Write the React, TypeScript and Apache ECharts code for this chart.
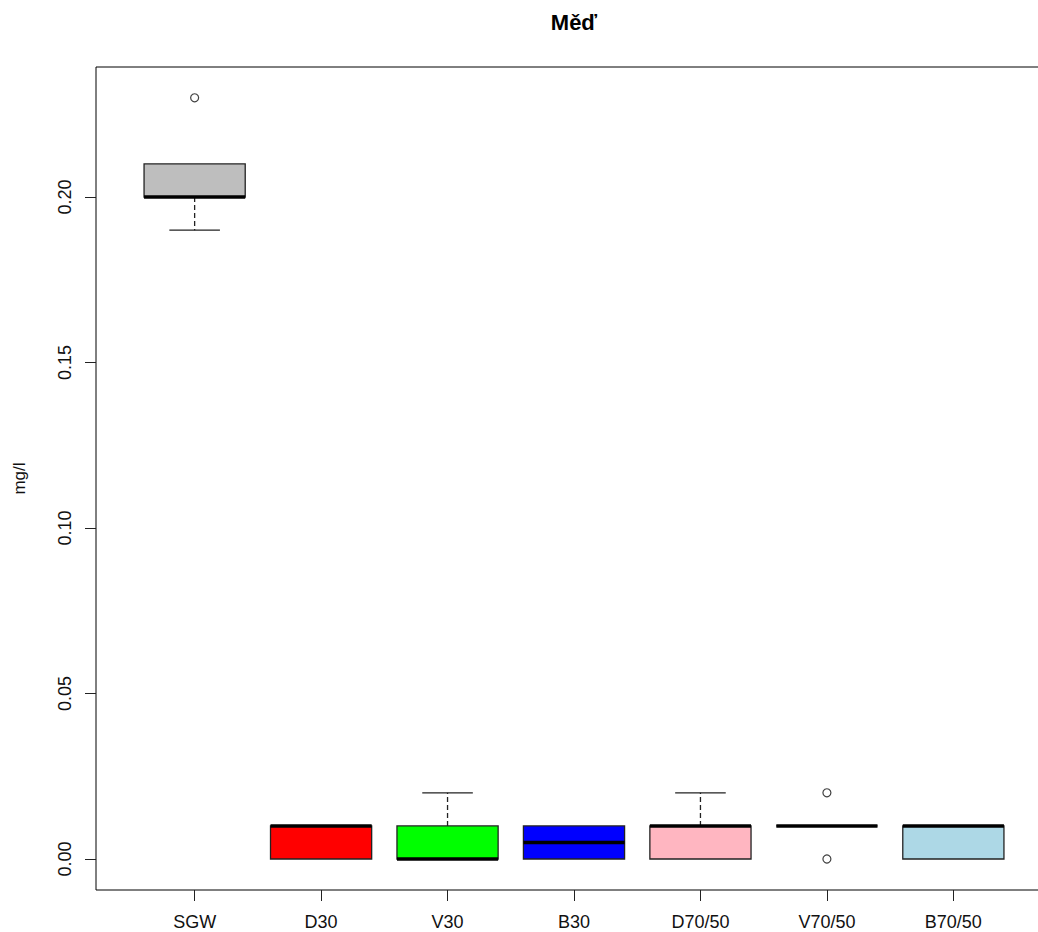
import React, { useEffect, useRef } from "react";
import * as echarts from "echarts";

const categories = ["SGW", "D30", "V30", "B30", "D70/50", "V70/50", "B70/50"];
const lowerWhisker = [0.19, 0, 0, 0, 0, 0.01, 0];
const q1 = [0.2, 0, 0, 0, 0, 0.01, 0];
const median = [0.2, 0.01, 0, 0.005, 0.01, 0.01, 0.01];
const q3 = [0.21, 0.01, 0.01, 0.01, 0.01, 0.01, 0.01];
const upperWhisker = [0.21, 0.01, 0.02, 0.01, 0.02, 0.01, 0.01];
const boxColors = ["#BEBEBE", "#FF0000", "#00FF00", "#0000FF", "#FFB6C1", "#FFFF00", "#ADD8E6"];
// outliers: [category index (0-based), value]
const outliers: [number, number][] = [
  [0, 0.23],
  [5, 0.02],
  [5, 0.0],
];
const yTicks = [0, 0.05, 0.1, 0.15, 0.2];
const xTicks = [1, 2, 3, 4, 5, 6, 7];

export default function App() {
  const ref = useRef<HTMLDivElement>(null);
  useEffect(() => {
    if (!ref.current) return;
    const chart = echarts.init(ref.current, undefined, { renderer: "svg" });
    const boxData = categories.map((_, i) => [
      i + 1,
      lowerWhisker[i],
      q1[i],
      median[i],
      q3[i],
      upperWhisker[i],
      i,
    ]);
    const fontFamily = "'Liberation Sans', Arial, sans-serif";
    chart.setOption({
      animation: false,
      backgroundColor: "#ffffff",
      grid: {
        left: 96,
        top: 67,
        width: 956,
        height: 823,
        show: true,
        borderColor: "#000",
        borderWidth: 1,
        backgroundColor: "transparent",
        containLabel: false,
        outerBoundsMode: "none",
      },
      graphic: [
        {
          type: "text",
          x: 574,
          y: 22,
          style: {
            text: "Měď",
            align: "center",
            verticalAlign: "middle",
            font: `bold 22px ${fontFamily}`,
            fill: "#000",
          },
        },
      ],
      xAxis: {
        type: "value",
        min: 0.22,
        max: 7.78,
        splitLine: { show: false },
        axisLine: { show: false, onZero: false },
        axisTick: { show: true, length: 11, customValues: xTicks, lineStyle: { color: "#222" } },
        axisLabel: {
          customValues: xTicks,
          formatter: (v: number) => categories[Math.round(v) - 1] ?? "",
          fontSize: 18,
          lineHeight: 18,
          fontFamily,
          color: "#111",
          margin: 23,
        },
      },
      yAxis: {
        type: "value",
        min: -0.00937,
        max: 0.2393,
        splitLine: { show: false },
        axisLine: { show: false, onZero: false },
        name: "mg/l",
        nameLocation: "middle",
        nameRotate: 90,
        nameGap: 68,
        nameTextStyle: { fontSize: 17, fontFamily, color: "#111" },
        axisTick: { show: true, length: 11, customValues: yTicks, lineStyle: { color: "#222" } },
        axisLabel: {
          customValues: yTicks,
          rotate: 90,
          formatter: (v: number) => v.toFixed(2),
          fontSize: 18,
          fontFamily,
          color: "#111",
          margin: 22,
        },
      },
      series: [
        {
          type: "custom",
          data: boxData,
          encode: { x: 0, y: [1, 2, 3, 4, 5] },
          clip: false,
          renderItem: (params: any, api: any) => {
            const x = api.value(0);
            const idx = api.value(6);
            const lo = api.coord([x, api.value(1)]);
            const b1 = api.coord([x, api.value(2)]);
            const md = api.coord([x, api.value(3)]);
            const b3 = api.coord([x, api.value(4)]);
            const hi = api.coord([x, api.value(5)]);
            const bw = api.size([0.8, 0])[0];
            const cw = api.size([0.4, 0])[0];
            const cx = lo[0];
            const children: any[] = [];
            children.push({
              type: "rect",
              shape: { x: cx - bw / 2, y: b3[1], width: bw, height: b1[1] - b3[1] },
              style: { fill: boxColors[idx], stroke: "#222", lineWidth: 1.3 },
            });
            if (hi[1] < b3[1]) {
              children.push({
                type: "line",
                shape: { x1: cx, y1: b3[1], x2: cx, y2: hi[1] },
                style: { stroke: "#222", lineWidth: 1.3, lineDash: [5, 3] },
              });
              children.push({
                type: "line",
                shape: { x1: cx - cw / 2, y1: hi[1], x2: cx + cw / 2, y2: hi[1] },
                style: { stroke: "#222", lineWidth: 1.3 },
              });
            }
            if (lo[1] > b1[1]) {
              children.push({
                type: "line",
                shape: { x1: cx, y1: b1[1], x2: cx, y2: lo[1] },
                style: { stroke: "#222", lineWidth: 1.3, lineDash: [5, 3] },
              });
              children.push({
                type: "line",
                shape: { x1: cx - cw / 2, y1: lo[1], x2: cx + cw / 2, y2: lo[1] },
                style: { stroke: "#222", lineWidth: 1.3 },
              });
            }
            children.push({
              type: "line",
              shape: { x1: cx - bw / 2, y1: md[1], x2: cx + bw / 2, y2: md[1] },
              style: { stroke: "#000", lineWidth: 3.5 },
            });
            return { type: "group", children };
          },
        },
        {
          type: "scatter",
          data: outliers.map(([i, v]) => [i + 1, v]),
          symbol: "circle",
          symbolSize: 8,
          itemStyle: { color: "rgba(0,0,0,0)", borderColor: "#111", borderWidth: 1.2 },
        },
      ],
    });
    return () => chart.dispose();
  }, []);
  return (
    <div style={{ position: "fixed", left: 0, top: 0, width: 1038, height: 932, overflow: "hidden", background: "#fff" }}>
      <div ref={ref} style={{ width: 1070, height: 932 }} />
    </div>
  );
}
